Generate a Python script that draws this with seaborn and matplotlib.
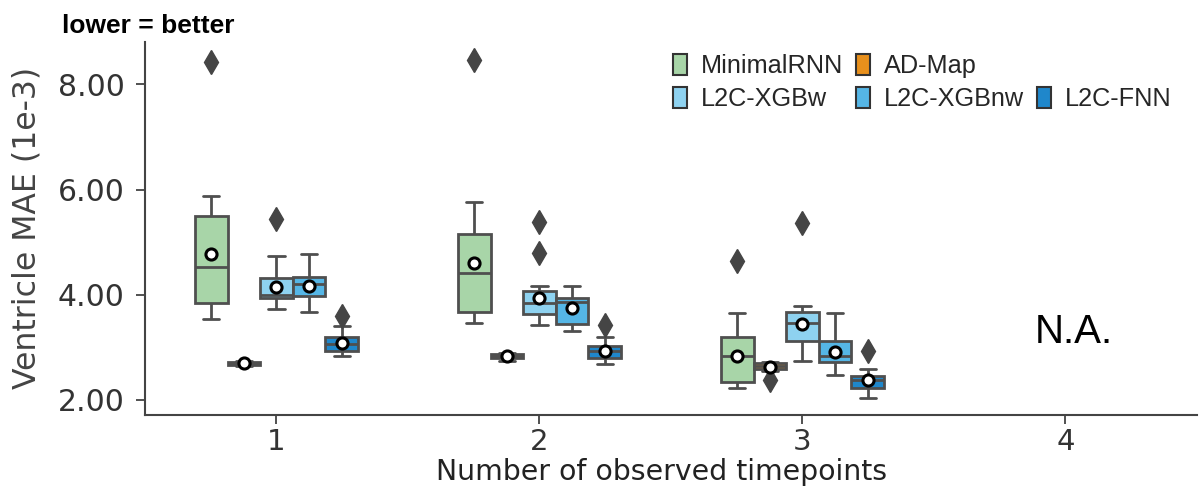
import numpy as np
import pandas as pd
import matplotlib
matplotlib.use("Agg")
import matplotlib.pyplot as plt
from matplotlib.patches import Patch
from matplotlib.ticker import FormatStrFormatter
import seaborn as sns

# ---------------- data ----------------
timepoints = ["1", "2", "3", "4"]
models = ["MinimalRNN", "AD-Map", "L2C-XGBw", "L2C-XGBnw", "L2C-FNN"]
colors = ["#a8d5a8", "#e8901c", "#8ed2f0", "#55b6e6", "#1f87cb"]

# per-timepoint samples (1, 2, 3 observed timepoints; 4 = N.A.)
minimalrnn_mae = [
    [3.53, 3.70, 3.84, 4.20, 4.53, 5.00, 5.49, 5.88, 8.42],
    [3.46, 3.55, 3.68, 4.00, 4.41, 4.80, 5.15, 5.76, 8.46],
    [2.22, 2.28, 2.35, 2.60, 2.84, 3.00, 3.19, 3.65, 4.64],
]
admap_mae = [
    [2.64, 2.65, 2.66, 2.68, 2.69, 2.70, 2.72, 2.73, 2.74],
    [2.74, 2.77, 2.79, 2.82, 2.84, 2.86, 2.88, 2.89, 2.90],
    [2.37, 2.55, 2.58, 2.61, 2.64, 2.67, 2.70, 2.71, 2.72],
]
xgbw_mae = [
    [3.72, 3.85, 3.93, 3.96, 3.99, 4.15, 4.31, 4.73, 5.44],
    [3.42, 3.50, 3.58, 3.63, 3.70, 3.78, 3.84, 3.92, 4.00, 4.08, 4.16, 4.80, 5.39],
    [2.75, 2.95, 3.13, 3.30, 3.46, 3.58, 3.68, 3.78, 5.37],
]
xgbnw_mae = [
    [3.68, 3.85, 3.98, 4.10, 4.20, 4.27, 4.33, 4.55, 4.78],
    [3.31, 3.38, 3.44, 3.65, 3.87, 3.90, 3.94, 4.05, 4.16],
    [2.47, 2.60, 2.73, 2.78, 2.84, 2.98, 3.12, 3.40, 3.66],
]
fnn_mae = [
    [2.84, 2.90, 2.94, 3.00, 3.06, 3.12, 3.19, 3.40, 3.60],
    [2.68, 2.74, 2.79, 2.86, 2.93, 2.98, 3.03, 3.20, 3.42],
    [2.03, 2.12, 2.22, 2.30, 2.37, 2.42, 2.46, 2.58, 2.94],
]

# means shown as white dots
minimalrnn_mean = [4.77, 4.60, 2.84]
admap_mean = [2.70, 2.83, 2.62]
xgbw_mean = [4.15, 3.94, 3.44]
xgbnw_mean = [4.16, 3.75, 2.92]
fnn_mean = [3.08, 2.93, 2.38]

# ---------------- long-form tables ----------------
rows = []
for model, series in zip(models, [minimalrnn_mae, admap_mae, xgbw_mae, xgbnw_mae, fnn_mae]):
    for tp, vals in zip(timepoints, series):
        for v in vals:
            rows.append((tp, model, v))
df = pd.DataFrame(rows, columns=["tp", "model", "mae"])

mrows = []
for model, series in zip(models, [minimalrnn_mean, admap_mean, xgbw_mean, xgbnw_mean, fnn_mean]):
    for tp, v in zip(timepoints, series):
        mrows.append((tp, model, v))
means_df = pd.DataFrame(mrows, columns=["tp", "model", "mae"])

# ---------------- plot ----------------
sns.set_theme(style="ticks")
plt.rcParams["font.family"] = ["DejaVu Sans"]

fig = plt.figure(figsize=(12, 4.95), dpi=100)
ax = fig.add_axes([0.1208, 0.1616, 0.8767, 0.7541])

line_c = "#4f4f4f"
box_width = 0.62
sns.boxplot(
    data=df, x="tp", y="mae", hue="model", order=timepoints, hue_order=models,
    palette=colors, saturation=1, width=box_width, gap=0, linewidth=2.0,
    linecolor=line_c, whis=1.5,
    flierprops=dict(marker="d", markersize=12, markerfacecolor="#454545",
                    markeredgecolor="#454545", linestyle="none"),
    legend=False, ax=ax,
)
sns.pointplot(
    data=means_df, x="tp", y="mae", hue="model", order=timepoints, hue_order=models,
    palette=colors, dodge=box_width * 4 / 5, errorbar=None, markers="o",
    linestyle="none", markersize=8, markerfacecolor="white",
    markeredgecolor="black", markeredgewidth=2.2, legend=False, zorder=10, ax=ax,
)

ax.set_xlim(-0.5, 3.5)
ax.set_ylim(1.714, 8.81)
ax.set_yticks([2, 4, 6, 8])
ax.yaxis.set_major_formatter(FormatStrFormatter("%.2f"))
sns.despine(ax=ax)
for s in ["left", "bottom"]:
    ax.spines[s].set_linewidth(1.5)
    ax.spines[s].set_color("#444444")
ax.tick_params(axis="both", labelsize=21.5, colors="#333333", length=6.5, width=1.2)
ax.tick_params(axis="y", pad=8)
ax.tick_params(axis="x", labelsize=21, pad=2.5)

ax.set_xlabel("Number of observed timepoints", fontsize=20.4, color="#222222")
ax.xaxis.set_label_coords(0.491, -0.115)
ax.set_ylabel("Ventricle MAE (1e-3)", fontsize=22.7, color="#444444")
ax.yaxis.set_label_coords(-0.097, 0.5)

ax.text(3.03, 3.09, "N.A.", ha="center", va="baseline", fontsize=29,
        family="Liberation Sans", color="black")

handles = [Patch(facecolor=c, edgecolor="#333333", linewidth=1.5) for c in colors]
blank = Patch(facecolor="none", edgecolor="none")
leg_handles = [handles[0], handles[2], handles[1], handles[3], blank, handles[4]]
leg_labels = [models[0], models[2], models[1], models[3], "", models[4]]
ax.legend(leg_handles, leg_labels, ncol=3, loc="upper left",
          bbox_to_anchor=(0.502, 0.968), frameon=False, borderpad=0,
          borderaxespad=0, handlelength=0.56, handleheight=0.92,
          handletextpad=0.55, columnspacing=0.5, labelspacing=0.35,
          prop={"family": "Liberation Sans", "size": 18.2})

fig.text(0.0517, 0.9333, "lower = better", ha="left", va="baseline", fontsize=19,
         fontweight="bold", family="Liberation Sans", color="black")

fig.savefig("out.png", dpi=100)
